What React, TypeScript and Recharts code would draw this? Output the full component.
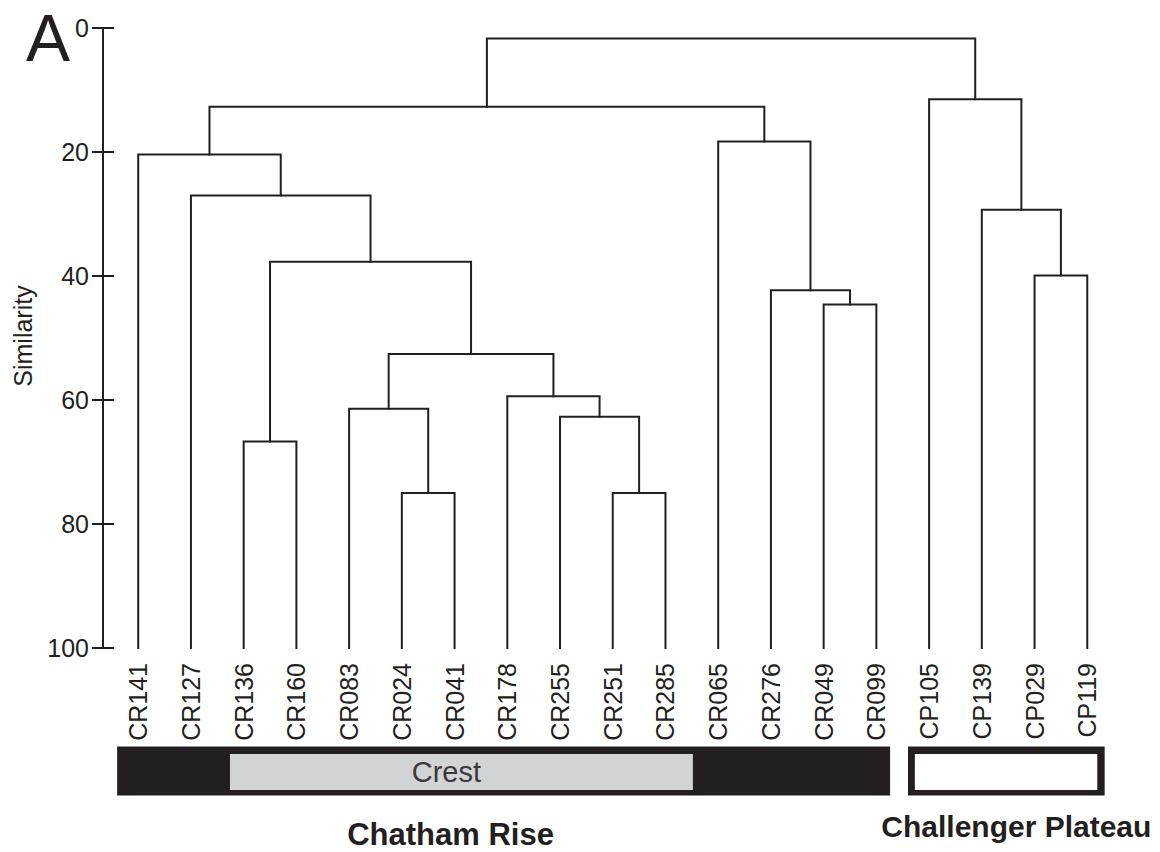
import { ComposedChart, Line, XAxis, YAxis, ReferenceArea } from "recharts"

// leaves in dendrogram order
const leafLabels = [
  "CR141", "CR127", "CR136", "CR160", "CR083", "CR024", "CR041", "CR178", "CR255", "CR251",
  "CR285", "CR065", "CR276", "CR049", "CR099", "CP105", "CP139", "CP029", "CP119",
]

// agglomeration steps: ids < 19 are leaves, id 19 + k is the k-th merge
const mergePairs: [number, number][] = [
  [5, 6], [9, 10], [2, 3], [17, 18], [8, 20], [4, 19], [7, 23], [24, 25], [13, 14],
  [12, 27], [21, 26], [16, 22], [1, 29], [0, 31], [11, 28], [32, 33], [15, 30], [34, 35],
]
const mergeSimilarity = [
  75.0, 75.0, 66.7, 39.9, 62.7, 61.4, 59.4, 52.6, 44.6,
  42.3, 37.7, 29.3, 27.0, 20.4, 18.3, 12.7, 11.5, 1.7,
]

const yTicks = [0, 20, 40, 60, 80, 100]

const groupNames = ["Chatham Rise", "Challenger Plateau"]
const groupFirstLeaf = [0, 15]
const groupLastLeaf = [14, 18]
const subgroupName = "Crest"
const subgroupLeaves = [2, 10]

const INK = "#231f20"
const FONT = "'Liberation Sans', Arial, Helvetica, sans-serif"

function buildLinks() {
  const xs = leafLabels.map((_, i) => i)
  const hs = leafLabels.map(() => 100)
  return mergePairs.map(([a, b], k) => {
    const h = mergeSimilarity[k]
    const link = [
      { x: xs[a], y: hs[a] },
      { x: xs[a], y: h },
      { x: xs[b], y: h },
      { x: xs[b], y: hs[b] },
    ]
    xs.push((xs[a] + xs[b]) / 2)
    hs.push(h)
    return link
  })
}

const links = buildLinks()

function LeafTick(props: any) {
  const { x, y, payload } = props
  return (
    <text
      transform={`translate(${x},${y + 15}) rotate(-90)`}
      textAnchor="end"
      dy="0.36em"
      fontSize={25}
      fontFamily={FONT}
      fill={INK}
    >
      {leafLabels[payload.value]}
    </text>
  )
}

function SimTick(props: any) {
  const { x, y, payload } = props
  return (
    <g>
      <line x1={x + 4} x2={x + 26} y1={y} y2={y} stroke={INK} strokeWidth={2} />
      <text x={x + 1} y={y} dy="0.36em" textAnchor="end" fontSize={25} fontFamily={FONT} fill={INK}>
        {payload.value}
      </text>
    </g>
  )
}

function AxisTitle(props: any) {
  const { viewBox } = props
  const cx = viewBox.x + 15
  const cy = viewBox.y + viewBox.height / 2 - 2
  return (
    <text
      x={cx}
      y={cy}
      transform={`rotate(-90, ${cx}, ${cy})`}
      textAnchor="middle"
      dy="0.36em"
      fontSize={25}
      fontFamily={FONT}
      fill={INK}
    >
      Similarity
    </text>
  )
}

const groupShift = [-53, 10]
const groupDrop = [49, 41]
const groupFont = [31, 30]

const groupLabel = (g: number) => (props: any) => {
  const { viewBox } = props
  return (
    <text
      x={viewBox.x + viewBox.width / 2 + groupShift[g]}
      y={viewBox.y + viewBox.height + groupDrop[g]}
      textAnchor="middle"
      fontSize={groupFont[g]}
      fontWeight="bold"
      fontFamily={FONT}
      fill={INK}
    >
      {groupNames[g]}
    </text>
  )
}

const crestLabel = (props: any) => {
  const { viewBox } = props
  return (
    <text
      x={viewBox.x + viewBox.width / 2 - 15}
      y={viewBox.y + viewBox.height / 2}
      dy="0.36em"
      textAnchor="middle"
      fontSize={29}
      fontFamily={FONT}
      fill="#3a3a3a"
    >
      {subgroupName}
    </text>
  )
}

export default function App() {
  return (
    <div style={{ position: "relative", width: 1150, height: 844 }}>
      <div
        style={{
          position: "absolute",
          left: 18,
          top: -8,
          fontSize: 66,
          lineHeight: "normal",
          fontFamily: FONT,
          color: INK,
        }}
      >
        A
      </div>
      <ComposedChart width={1150} height={844} margin={{ top: 20, right: 18, bottom: 0, left: 0 }}>
        <XAxis
          type="number"
          dataKey="x"
          domain={[-0.668, 19]}
          ticks={leafLabels.map((_, i) => i)}
          interval={0}
          allowDataOverflow
          axisLine={false}
          tickLine={false}
          tickSize={0}
          tickMargin={0}
          height={204}
          tick={<LeafTick />}
        />
        <YAxis
          type="number"
          dataKey="y"
          domain={[0, 100]}
          ticks={yTicks}
          reversed
          width={95}
          tickSize={11}
          tickMargin={4}
          tickLine={false}
          axisLine={{ stroke: INK, strokeWidth: 2 }}
          tick={<SimTick />}
          label={<AxisTitle />}
        />
        {groupNames.map((name, g) => (
          <ReferenceArea
            key={name}
            x1={groupFirstLeaf[g] - 0.4}
            x2={groupLastLeaf[g] + (g === 0 ? 0.26 : 0.33)}
            y1={115.9}
            y2={123.8}
            fill={INK}
            fillOpacity={1}
            stroke="none"
            ifOverflow="visible"
            label={groupLabel(g)}
          />
        ))}
        <ReferenceArea
          x1={subgroupLeaves[0] - 0.26}
          x2={subgroupLeaves[1] + 0.52}
          y1={117.1}
          y2={122.9}
          fill="#d1d3d4"
          fillOpacity={1}
          stroke="none"
          ifOverflow="visible"
          label={crestLabel}
        />
        <ReferenceArea
          x1={groupFirstLeaf[1] - 0.27}
          x2={groupLastLeaf[1] + 0.19}
          y1={117.1}
          y2={122.9}
          fill="#ffffff"
          fillOpacity={1}
          stroke="none"
          ifOverflow="visible"
        />
        {links.map((pts, i) => (
          <Line
            key={`link-${i}`}
            data={pts}
            dataKey="y"
            type="linear"
            stroke={INK}
            strokeWidth={2}
            strokeLinejoin="miter"
            strokeLinecap="square"
            dot={false}
            activeDot={false}
            isAnimationActive={false}
          />
        ))}
      </ComposedChart>
    </div>
  )
}
